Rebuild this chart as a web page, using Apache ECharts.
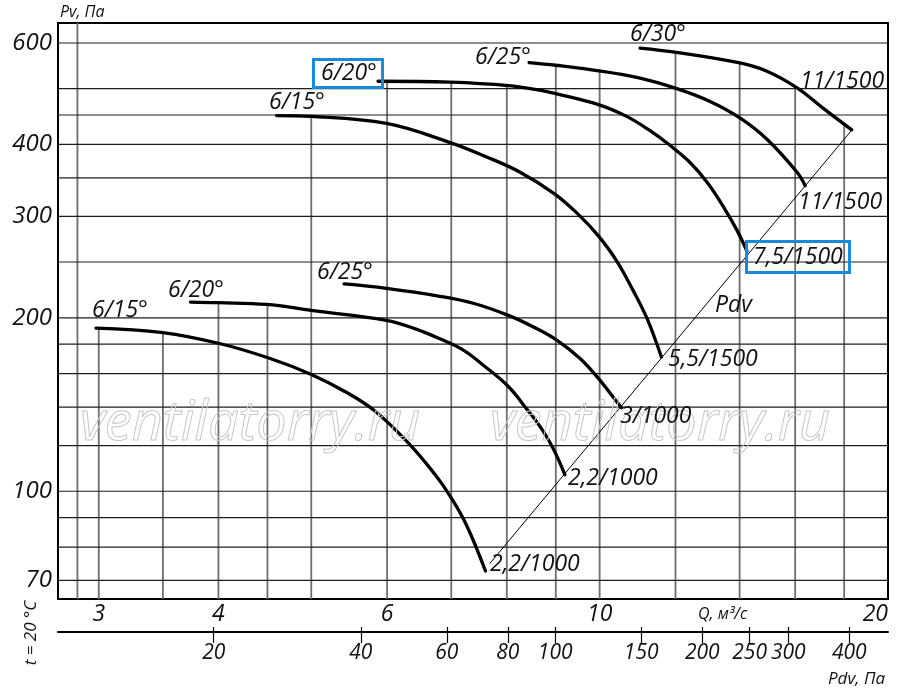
<!DOCTYPE html>
<html>
<head>
<meta charset="utf-8">
<script src="https://cdn.jsdelivr.net/npm/echarts@6.0.0/dist/echarts.min.js"></script>
<style>
    html, body { margin: 0; padding: 0; background: #fff; }
    #chart { width: 900px; height: 696px; }
</style>
</head>
<body>
<div id="chart"></div>
<script>
// диапазоны осей
const qMin = 2.72, qMax = 20;
const pvMin = 65, pvMax = 650;
const pdvMin = 9.6, pdvMax = 480;

// подписи и линии сетки
const qLabels = [3, 4, 6, 10, 20];
const pvLabels = [70, 100, 200, 300, 400, 600];
const pdvTicks = [20, 40, 60, 80, 100, 150, 200, 250, 300, 400];
const gridQ = [2.85, 3, 3.5, 4, 4.5, 5, 6, 7, 8, 9, 10, 12, 14, 16, 18];
const gridPv = [70, 80, 90, 100, 120, 140, 160, 180, 200, 250, 300, 350, 400, 450, 500, 600];

// 1000 об/мин
const low15Q = [2.98, 3.50, 4.01, 4.53, 5.00, 5.42, 5.83, 6.34, 6.73, 6.98, 7.26, 7.60];
const low15P = [192, 188.6, 180.5, 170, 159.5, 149, 137.7, 120.4, 107, 98.1, 87.4, 72.7];
const low20Q = [3.74, 4.00, 4.49, 5.00, 5.99, 6.41, 6.81, 7.20, 7.56, 8.03, 8.39, 8.66, 8.94, 9.20];
const low20P = [213, 212.5, 211, 206, 198, 191.6, 184, 176, 165.5, 152, 139, 129.7, 118.8, 106.8];
const low25Q = [5.41, 5.99, 6.81, 7.38, 8.03, 8.52, 9.02, 9.54, 9.97, 10.42, 10.54];
const low25P = [229, 225, 218, 212, 202, 193, 183, 170, 157, 143, 139.6];

// 1500 об/мин
const up15Q = [4.60, 5.00, 5.99, 6.98, 7.59, 8.26, 8.98, 9.54, 9.97, 10.42, 10.84, 11.20, 11.47, 11.60];
const up15P = [449, 447.5, 435, 403, 381.6, 358, 328, 300.4, 277.5, 251, 223, 200, 180.5, 171];
const up20Q = [5.87, 6.98, 8.03, 8.66, 9.00, 9.97, 10.67, 11.28, 11.84, 12.42, 12.97, 13.51, 13.91, 14.25];
const up20P = [515, 513, 506, 497, 490, 469, 447.5, 423, 398.6, 372.5, 342.6, 309, 284, 261];
const up25Q = [8.44, 9.00, 9.77, 11.02, 12.04, 13.04, 14.01, 14.96, 16.08, 16.39];
const up25P = [555, 549, 539.5, 521.6, 500, 475, 444.7, 408, 357.6, 339];
const up30Q = [11.02, 12.03, 14.01, 14.95, 16.06, 17.12, 18.33];
const up30P = [588, 578, 554, 536, 502, 462, 424];

// линия динамического давления
const pdvLineQ = [7.68, 18.33];
const pdvLineP = [74.9, 423.6];

const curves = [
    { q: low15Q, p: low15P },
    { q: low20Q, p: low20P },
    { q: low25Q, p: low25P },
    { q: up15Q, p: up15P },
    { q: up20Q, p: up20P },
    { q: up25Q, p: up25P },
    { q: up30Q, p: up30P }
];

const FONT = '"Open Sans", sans-serif';
const INK = '#111';

function toPairs(q, p) {
    return q.map((v, i) => [v, p[i]]);
}

/**
 * верхняя огибающая кривых в точке q (вертикальные линии сетки обрываются на ней)
 */
function envelopeAt(q) {
    let best = null;
    curves.forEach(c => {
        for (let i = 0; i < c.q.length - 1; i++) {
            if (q >= c.q[i] && q <= c.q[i + 1]) {
                const t = (Math.log(q) - Math.log(c.q[i])) / (Math.log(c.q[i + 1]) - Math.log(c.q[i]));
                const p = Math.exp(Math.log(c.p[i]) + t * (Math.log(c.p[i + 1]) - Math.log(c.p[i])));
                if (best === null || p > best) best = p;
            }
        }
    });
    return best === null ? pvMax : best;
}

function label(text, x, y, size) {
    return {
        type: 'text', x: x, y: y, z: 20, silent: true,
        style: {
            text: text, fill: INK, align: 'left', verticalAlign: 'middle',
            font: 'italic ' + size + 'px ' + FONT
        }
    };
}

function box(x, y, w, h) {
    return {
        type: 'rect', z: 21, silent: true,
        shape: { x: x, y: y, width: w, height: h },
        style: { fill: 'none', stroke: '#1a8ad8', lineWidth: 3 }
    };
}

function watermark(x) {
    return {
        type: 'text', x: x, y: 425, z: 5, silent: true,
        style: {
            text: 'ventilatorry.ru', fill: 'none', stroke: '#c8c8c8', lineWidth: 1,
            align: 'left', verticalAlign: 'middle', font: 'italic 54px ' + FONT
        }
    };
}

function buildSeries() {
    const series = [];

    // вертикальные линии сетки
    gridQ.forEach(q => {
        series.push({
            type: 'line', xAxisIndex: 0, yAxisIndex: 0, z: 1, silent: true,
            symbol: 'none', animation: false,
            lineStyle: { color: '#6e6e6e', width: 1.8 },
            data: [[q, pvMin], [q, envelopeAt(q)]]
        });
    });

    // горизонтальные линии сетки
    gridPv.forEach(p => {
        series.push({
            type: 'line', xAxisIndex: 0, yAxisIndex: 0, z: 1, silent: true,
            symbol: 'none', animation: false,
            lineStyle: { color: '#1e1e1e', width: 1.2 },
            data: [[qMin, p], [qMax, p]]
        });
    });

    // линия Pdv
    series.push({
        type: 'line', z: 2, silent: true, symbol: 'none', animation: false,
        lineStyle: { color: '#000', width: 1 },
        data: toPairs(pdvLineQ, pdvLineP)
    });

    // характеристики
    curves.forEach(c => {
        series.push({
            type: 'line', z: 3, silent: true, symbol: 'none', animation: false,
            smooth: 0.4,
            lineStyle: { color: '#000', width: 3.3, cap: 'round' },
            data: toPairs(c.q, c.p)
        });
    });

    return series;
}

function initChart() {
    const chart = echarts.init(document.getElementById('chart'));
    const option = {
        backgroundColor: '#fff',
        animation: false,
        grid: {
            left: 58, right: 12, top: 23, bottom: 97,
            show: true, borderColor: '#000', borderWidth: 2,
            outerBoundsMode: 'none'
        },
        xAxis: [{
            type: 'log', logBase: 10, min: qMin, max: qMax,
            position: 'bottom',
            axisLine: { show: false },
            axisTick: { show: false },
            splitLine: { show: false },
            axisLabel: {
                customValues: qLabels, margin: 4, alignMaxLabel: 'right',
                fontFamily: FONT, fontStyle: 'italic', fontSize: 23, color: INK,
                formatter: v => String(Math.round(v))
            }
        }, {
            type: 'log', logBase: 10, min: pdvMin, max: pdvMax,
            position: 'bottom', offset: 33,
            axisLine: { show: true, lineStyle: { color: '#000', width: 2 } },
            axisTick: { show: true, inside: false, length: 11, customValues: pdvTicks, lineStyle: { color: '#000', width: 1.2 } },
            splitLine: { show: false },
            axisLabel: {
                customValues: pdvTicks, margin: 11,
                fontFamily: FONT, fontStyle: 'italic', fontSize: 21, color: INK,
                formatter: v => String(Math.round(v))
            }
        }, {
            type: 'log', logBase: 10, min: pdvMin, max: pdvMax,
            position: 'bottom', offset: 33,
            axisLine: { show: false },
            axisTick: { show: true, inside: true, length: 5, customValues: pdvTicks, lineStyle: { color: '#000', width: 1.2 } },
            splitLine: { show: false },
            axisLabel: { show: false }
        }],
        yAxis: {
            type: 'log', logBase: 10, min: pvMin, max: pvMax,
            axisLine: { show: false },
            axisTick: { show: false },
            splitLine: { show: false },
            axisLabel: {
                customValues: pvLabels, margin: 6,
                fontFamily: FONT, fontStyle: 'italic', fontSize: 24, color: INK,
                formatter: v => String(Math.round(v))
            }
        },
        graphic: [
            watermark(80),
            watermark(490),
            label('Pv, Па', 60, 12, 16),
            label('Q, м³/с', 698, 614, 16),
            label('Pdv, Па', 828, 679, 17),
            {
                type: 'text', x: 31, y: 633, rotation: Math.PI / 2, z: 20, silent: true,
                style: {
                    text: 't = 20 °C', fill: INK, align: 'center', verticalAlign: 'middle',
                    font: 'italic 17px ' + FONT
                }
            },
            label('6/15°', 92, 310, 23),
            label('6/20°', 168, 290, 23),
            label('6/25°', 317, 272, 23),
            label('6/15°', 269, 102, 23),
            label('6/20°', 321, 73, 23),
            label('6/25°', 475, 57, 23),
            label('6/30°', 630, 34, 23),
            label('11/1500', 800, 81, 23),
            label('11/1500', 798, 202, 23),
            label('7,5/1500', 753, 257, 23),
            label('Pdv', 715, 305, 23),
            label('5,5/1500', 668, 359, 23),
            label('3/1000', 620, 416, 23),
            label('2,2/1000', 568, 478, 23),
            label('2,2/1000', 490, 564, 23),
            box(313.5, 59.5, 69, 28),
            box(746.5, 241.5, 103, 31)
        ],
        series: buildSeries()
    };
    chart.setOption(option);
    return chart;
}

document.addEventListener('DOMContentLoaded', function () {
    const chart = initChart();
    window.addEventListener('resize', function () {
        chart.resize();
    });
});
</script>
</body>
</html>
